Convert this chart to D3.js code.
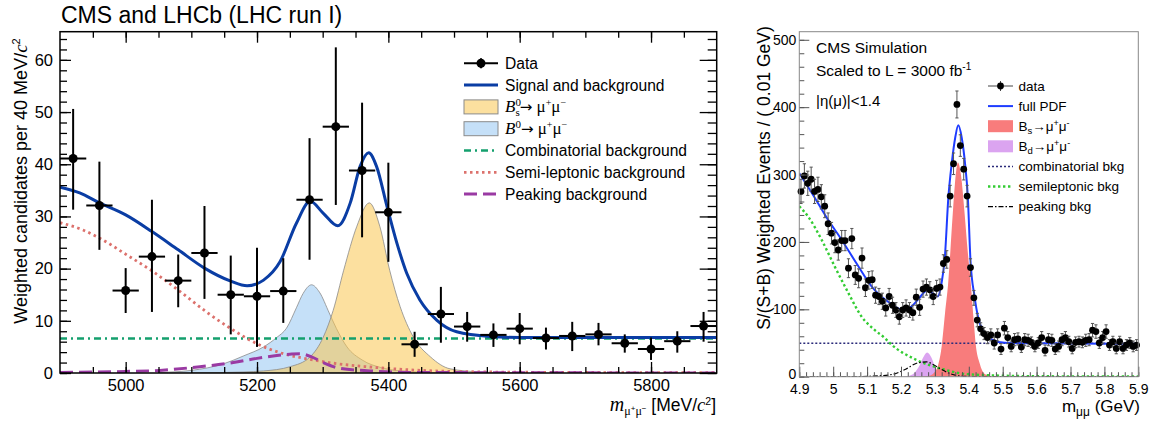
<!DOCTYPE html>
<html>
<head>
<meta charset="utf-8">
<script src="https://cdn.jsdelivr.net/npm/d3@7"></script>
<style>
  html, body { margin: 0; padding: 0; background: #fff; }
  svg { display: block; font-family: "Liberation Sans", Arial, sans-serif; }
</style>
</head>
<body>
<svg id="chart" width="1160" height="424"></svg>
<script>
// ---------- left panel: CMS + LHCb run I ----------
const lhcMass = [4920, 4960, 5000, 5040, 5080, 5120, 5160, 5200, 5240, 5280, 5320, 5360, 5400,
  5440, 5480, 5520, 5560, 5600, 5640, 5680, 5720, 5760, 5800, 5840, 5880];
const lhcCounts = [41.1, 32.1, 15.8, 22.3, 17.7, 23.0, 15.0, 14.7, 15.7, 33.2, 47.2, 38.8, 30.8,
  5.5, 11.3, 8.9, 7.3, 8.5, 6.7, 7.1, 7.4, 5.7, 4.6, 6.1, 9.0];
const lhcErrLow = [31.3, 23.6, 11.5, 11.7, 12.6, 14.2, 7.4, 5.0, 9.6, 21.7, 32.2, 26.0, 21.3,
  3.1, 5.8, 6.0, 5.0, 5.5, 4.5, 4.2, 5.3, 3.9, 2.5, 3.9, 6.0];
const lhcErrHigh = [50.6, 40.5, 20.1, 33.2, 22.7, 32.0, 22.5, 24.0, 22.0, 45.0, 62.4, 51.8, 40.3,
  7.9, 16.5, 11.7, 9.5, 11.5, 8.7, 9.8, 9.6, 7.4, 6.8, 8.0, 11.7];
const lhcBinHalf = 20;

const sigBkgCurve = [[4900, 35.6], [4930, 34.5], [4960, 32.6], [5000, 30.3], [5040, 27.1], [5080, 23.6],
  [5120, 20.1], [5160, 17.6], [5185, 16.7], [5210, 17.8], [5235, 21.3], [5260, 28.7], [5281, 32.9],
  [5301, 30.6], [5323, 28.2], [5342, 32.6], [5357, 39.6], [5370, 42.2], [5382, 39.6], [5398, 31.9],
  [5413, 24.9], [5428, 19.1], [5448, 14.0], [5474, 10.1], [5504, 7.9], [5555, 7.0], [5600, 6.8],
  [5700, 6.8], [5900, 6.8]];
const combCurve = [[4900, 6.6], [5900, 6.6]];
const semilepCurve = [[4900, 28.8], [4935, 27.4], [4961, 25.8], [5002, 22.6], [5042, 19.4], [5083, 15.6],
  [5123, 11.7], [5164, 8.2], [5200, 5.6], [5240, 3.7], [5281, 2.6], [5321, 1.8], [5367, 1.2],
  [5450, 0.5], [5550, 0.2], [5700, 0.1], [5900, 0.05]];
const peakingCurve = [[4900, 0.1], [5000, 0.3], [5052, 0.5], [5113, 1.2], [5164, 2.0], [5200, 2.8],
  [5250, 3.6], [5265, 3.7], [5283, 3.1], [5301, 2.0], [5326, 0.9], [5372, 0.4], [5450, 0.1], [5900, 0]];
const b0Curve = [[5050, 0.1], [5100, 0.5], [5150, 1.8], [5180, 3.3], [5210, 5.0], [5230, 6.8], [5245, 8.6],
  [5260, 12.5], [5270, 15.2], [5283, 16.9], [5295, 15.5], [5310, 11.5], [5321, 8.5], [5337, 5.0],
  [5360, 2.5], [5390, 1.0], [5430, 0.3], [5500, 0]];
const bsCurve = [[5100, 0], [5150, 0.1], [5210, 0.4], [5250, 1.2], [5281, 3.1], [5301, 6.9], [5316, 12.0],
  [5332, 19.7], [5352, 28.1], [5371, 32.6], [5387, 28.1], [5402, 19.7], [5418, 12.7], [5438, 6.9],
  [5464, 3.1], [5494, 0.8], [5540, 0.2], [5600, 0]];

const lhcMajorX = [5000, 5200, 5400, 5600, 5800];
const lhcMajorY = [0, 10, 20, 30, 40, 50, 60];

// ---------- right panel: CMS simulation, 3000 fb-1 ----------
const cmsBinStart = 4.9, cmsBinWidth = 0.01;
const cmsCounts = [
  275, 298, 287, 293, 275, 278, 267, 253, 227, 213,
  199, 188, 202, 202, 161, 205, 151, 146, 176, 132,
  143, 144, 121, 119, 112, 102, 119, 106, 99, 89,
  99, 102, 99, 95, 118, 103, 130, 133, 129, 119,
  131, 133, 168, 174, 268, 316, 404, 343, 308, 268,
  162, 117, 84, 71, 64, 58, 62, 50, 62, 41,
  72, 58, 45, 55, 56, 44, 55, 54, 51, 45,
  50, 58, 39, 55, 54, 41, 45, 55, 58, 52,
  42, 51, 52, 51, 54, 55, 69, 67, 50, 58,
  67, 47, 52, 42, 52, 42, 47, 50, 45, 47];
const cmsErrors = [
  18, 18, 18, 18, 18, 18, 18, 17, 16, 16,
  15, 15, 15, 15, 14, 15, 14, 14, 15, 13,
  13, 13, 12, 12, 12, 12, 12, 12, 11, 11,
  11, 12, 11, 11, 12, 12, 12, 12, 12, 12,
  12, 12, 13, 13, 16, 16, 20, 16, 16, 16,
  13, 11, 10, 9, 9, 9, 9, 9, 9, 8,
  10, 9, 8, 9, 9, 8, 9, 9, 8, 8,
  8, 9, 8, 9, 9, 8, 8, 9, 9, 8,
  8, 8, 8, 8, 9, 9, 10, 10, 8, 9,
  10, 8, 8, 8, 8, 8, 8, 8, 8, 8];

const fullPdfCurve = [[4.9, 302], [4.95, 262], [4.986, 232], [5.02, 207], [5.069, 168], [5.118, 131],
  [5.168, 109], [5.2, 100], [5.227, 103], [5.256, 118], [5.276, 128], [5.296, 123], [5.308, 119],
  [5.32, 140], [5.329, 175], [5.34, 268], [5.35, 318], [5.36, 355], [5.369, 373], [5.379, 355],
  [5.389, 316], [5.397, 268], [5.405, 172], [5.417, 119], [5.428, 87], [5.443, 67], [5.467, 55.5],
  [5.506, 50.5], [5.585, 49.5], [5.9, 49]];
const cmsBsCurve = [[5.25, 0], [5.28, 1], [5.296, 5], [5.31, 18], [5.32, 45], [5.33, 95], [5.339, 138],
  [5.352, 237], [5.359, 286], [5.368, 318], [5.378, 295], [5.388, 240], [5.397, 185], [5.406, 138],
  [5.415, 80], [5.42, 50], [5.432, 20], [5.447, 4], [5.47, 0.5], [5.5, 0]];
const cmsBdCurve = [[5.2, 0], [5.22, 1], [5.24, 6], [5.255, 17], [5.265, 28], [5.277, 36], [5.29, 28],
  [5.3, 15], [5.31, 6], [5.325, 1], [5.34, 0]];
const cmsCombCurve = [[4.9, 49.5], [5.9, 49.5]];
const cmsSemiCurve = [[4.9, 253], [4.927, 237], [4.966, 203], [5.005, 163], [5.045, 124], [5.084, 89],
  [5.123, 69], [5.153, 57], [5.168, 49.5], [5.246, 24.8], [5.315, 12.4], [5.39, 4], [5.5, 1.5],
  [5.6, 0.7], [5.9, 0.2]];
const cmsPeakCurve = [[4.9, 0], [5.05, 0], [5.12, 1], [5.17, 3], [5.217, 12], [5.246, 20], [5.275, 22],
  [5.295, 18], [5.315, 12], [5.345, 4.5], [5.375, 1], [5.42, 0], [5.9, 0]];

const cmsMajorX = [4.9, 5.0, 5.1, 5.2, 5.3, 5.4, 5.5, 5.6, 5.7, 5.8, 5.9];
const cmsMajorY = [0, 100, 200, 300, 400, 500];

// ---------- helpers ----------
const svg = d3.select("#chart");
const defs = svg.append("defs");

function styleAxis(g, fontSize, color, width) {
  g.attr("font-size", null).attr("font-family", null);
  g.select(".domain").remove();
  g.selectAll(".tick line").attr("stroke", color).attr("stroke-width", width);
  g.selectAll(".tick text").attr("fill", "#000").style("font-size", fontSize + "px");
}

// text built out of pieces (sub/superscripts, italics)
function richText(parent, x, y, parts, size, family) {
  const t = parent.append("text").attr("x", x).attr("y", y)
    .style("font-size", size + "px");
  if (family) t.style("font-family", family);
  parts.forEach(p => {
    const s = t.append("tspan").text(p.t);
    if (p.dy) s.attr("dy", p.dy);
    if (p.dx) s.attr("dx", p.dx);
    if (p.size) s.style("font-size", p.size + "px");
    if (p.italic) s.style("font-style", "italic");
    if (p.serif) s.style("font-family", "'Liberation Serif', 'DejaVu Serif', serif");
    if (p.sans) s.style("font-family", "'DejaVu Sans', sans-serif");
  });
  return t;
}

// ================= LEFT PANEL =================
const L = { left: 60, right: 716.7, top: 31.7, bottom: 373 };
const xL = d3.scaleLinear().domain([4900, 5900]).range([L.left, L.right]);
const yL = d3.scaleLinear().domain([0, 65.4]).range([L.bottom, L.top]);

defs.append("clipPath").attr("id", "clipL").append("rect")
  .attr("x", L.left).attr("y", L.top)
  .attr("width", L.right - L.left).attr("height", L.bottom - L.top);

const gL = svg.append("g");
const plotL = gL.append("g").attr("clip-path", "url(#clipL)");

const lineL = d3.line().x(d => xL(d[0])).y(d => yL(d[1])).curve(d3.curveMonotoneX);
const areaL = d3.area().x(d => xL(d[0])).y0(yL(0)).y1(d => yL(d[1])).curve(d3.curveMonotoneX);

// signal shapes
plotL.append("path").attr("d", areaL(b0Curve))
  .attr("fill", "#9fcbf3").attr("fill-opacity", 0.6)
  .attr("stroke", "#8a8a8a").attr("stroke-width", 0.8);
plotL.append("path").attr("d", areaL(bsCurve))
  .attr("fill", "#f9c650").attr("fill-opacity", 0.55)
  .attr("stroke", "#8a8a8a").attr("stroke-width", 0.8);

// backgrounds
plotL.append("path").attr("d", lineL(combCurve))
  .attr("fill", "none").attr("stroke", "#14a06e").attr("stroke-width", 2.6)
  .attr("stroke-dasharray", "7,4,2,4");
plotL.append("path").attr("d", lineL(semilepCurve))
  .attr("fill", "none").attr("stroke", "#dc716c").attr("stroke-width", 2.8)
  .attr("stroke-dasharray", "2.5,3.5");
plotL.append("path").attr("d", lineL(peakingCurve))
  .attr("fill", "none").attr("stroke", "#9a3aa3").attr("stroke-width", 3)
  .attr("stroke-dasharray", "13,6");

// total fit
plotL.append("path").attr("d", lineL(sigBkgCurve))
  .attr("fill", "none").attr("stroke", "#0a3da4").attr("stroke-width", 3);

// data points
const ptsL = gL.append("g").selectAll("g").data(lhcMass).join("g");
ptsL.append("line")
  .attr("x1", d => xL(d)).attr("x2", d => xL(d))
  .attr("y1", (d, i) => yL(lhcErrLow[i])).attr("y2", (d, i) => yL(lhcErrHigh[i]))
  .attr("stroke", "#000").attr("stroke-width", 2);
ptsL.append("line")
  .attr("x1", d => xL(d - lhcBinHalf)).attr("x2", d => xL(d + lhcBinHalf))
  .attr("y1", (d, i) => yL(lhcCounts[i])).attr("y2", (d, i) => yL(lhcCounts[i]))
  .attr("stroke", "#000").attr("stroke-width", 2);
ptsL.append("circle")
  .attr("cx", d => xL(d)).attr("cy", (d, i) => yL(lhcCounts[i]))
  .attr("r", 4.5).attr("fill", "#000");

// axes (ticks inside the frame)
const lhcMinorX = d3.range(4950, 5900, 50);
const lhcMinorY = d3.range(0, 66, 2);
const axL = [
  [d3.axisBottom(xL).tickValues(lhcMinorX).tickSize(-6).tickFormat(""), `translate(0,${L.bottom})`],
  [d3.axisBottom(xL).tickValues(lhcMajorX).tickSize(-11).tickPadding(6).tickFormat(d3.format("d")), `translate(0,${L.bottom})`],
  [d3.axisTop(xL).tickValues(lhcMinorX).tickSize(-6).tickFormat(""), `translate(0,${L.top})`],
  [d3.axisTop(xL).tickValues(lhcMajorX).tickSize(-11).tickFormat(""), `translate(0,${L.top})`],
  [d3.axisLeft(yL).tickValues(lhcMinorY).tickSize(-7).tickFormat(""), `translate(${L.left},0)`],
  [d3.axisLeft(yL).tickValues(lhcMajorY).tickSize(-11).tickPadding(7), `translate(${L.left},0)`],
  [d3.axisRight(yL).tickValues(lhcMinorY).tickSize(-9).tickFormat(""), `translate(${L.right},0)`],
  [d3.axisRight(yL).tickValues(lhcMajorY).tickSize(-17).tickFormat(""), `translate(${L.right},0)`]
];
axL.forEach(([ax, tr]) => {
  gL.append("g").attr("transform", tr).call(ax).call(g => styleAxis(g, 16.5, "#000", 1.3));
});

gL.append("rect")
  .attr("x", L.left).attr("y", L.top)
  .attr("width", L.right - L.left).attr("height", L.bottom - L.top)
  .attr("fill", "none").attr("stroke", "#000").attr("stroke-width", 1.5);

// title and axis titles
gL.append("text").attr("x", 61).attr("y", 22.5)
  .style("font-size", "23px").text("CMS and LHCb (LHC run I)");

richText(gL.append("g").attr("transform", "translate(27,181) rotate(-90)"), 0, 0, [
  { t: "Weighted candidates per 40 MeV/" },
  { t: "c", italic: true, serif: true, size: 19 },
  { t: "2", size: 11, dy: -7 }
], 18).attr("text-anchor", "middle");

richText(gL, 716, 411, [
  { t: "m", italic: true, serif: true, size: 20 },
  { t: "μ", serif: true, size: 12, dy: 4 },
  { t: "+", size: 8, dy: -4 },
  { t: "μ", serif: true, size: 12, dy: 4 },
  { t: "−", size: 8, dy: -4 },
  { t: " [MeV/", dy: 0 },
  { t: "c", italic: true, serif: true, size: 18.5 },
  { t: "2", size: 10.5, dy: -6 },
  { t: "]", dy: 6 }
], 17.5).attr("text-anchor", "end");

// legend
const legL = gL.append("g");
const legLy = i => 63.3 + 21.8 * i;
const lx0 = 464, lx1 = 498, ltx = 505;
legL.append("line").attr("x1", lx0).attr("x2", lx1).attr("y1", legLy(0)).attr("y2", legLy(0))
  .attr("stroke", "#000").attr("stroke-width", 2);
legL.append("line").attr("x1", 481).attr("x2", 481).attr("y1", legLy(0) - 5).attr("y2", legLy(0) + 5)
  .attr("stroke", "#000").attr("stroke-width", 2);
legL.append("circle").attr("cx", 481).attr("cy", legLy(0)).attr("r", 4.5).attr("fill", "#000");
legL.append("line").attr("x1", lx0).attr("x2", lx1).attr("y1", legLy(1)).attr("y2", legLy(1))
  .attr("stroke", "#0a3da4").attr("stroke-width", 3);
legL.append("rect").attr("x", lx0).attr("y", legLy(2) - 7).attr("width", lx1 - lx0).attr("height", 14)
  .attr("fill", "#f9c650").attr("fill-opacity", 0.55).attr("stroke", "#8a8a8a");
legL.append("rect").attr("x", lx0).attr("y", legLy(3) - 7).attr("width", lx1 - lx0).attr("height", 14)
  .attr("fill", "#9fcbf3").attr("fill-opacity", 0.6).attr("stroke", "#8a8a8a");
legL.append("line").attr("x1", lx0).attr("x2", lx1).attr("y1", legLy(4)).attr("y2", legLy(4))
  .attr("stroke", "#14a06e").attr("stroke-width", 2.6).attr("stroke-dasharray", "7,4,2,4");
legL.append("line").attr("x1", lx0).attr("x2", lx1).attr("y1", legLy(5)).attr("y2", legLy(5))
  .attr("stroke", "#dc716c").attr("stroke-width", 2.8).attr("stroke-dasharray", "2.5,3.5");
legL.append("line").attr("x1", lx0).attr("x2", lx1).attr("y1", legLy(6)).attr("y2", legLy(6))
  .attr("stroke", "#9a3aa3").attr("stroke-width", 3).attr("stroke-dasharray", "13,6");

const legLText = { 0: "Data", 1: "Signal and background", 4: "Combinatorial background",
  5: "Semi-leptonic background", 6: "Peaking background" };
Object.entries(legLText).forEach(([i, s]) => {
  legL.append("text").attr("x", ltx).attr("y", legLy(+i) + 5.6).style("font-size", "15.6px").text(s);
});
richText(legL, ltx, legLy(2) + 5.5, [
  { t: "B", italic: true },
  { t: "0", size: 11, dy: -6 },
  { t: "s", size: 11, dx: -5.5, dy: 10 },
  { t: "→", sans: true, size: 15, dy: -4 },
  { t: " μ" },
  { t: "+", size: 10, dy: -6 },
  { t: "μ", dy: 6 },
  { t: "−", size: 10, dy: -6 }
], 17, "'Liberation Serif', 'DejaVu Serif', serif");
richText(legL, ltx, legLy(3) + 5.5, [
  { t: "B", italic: true },
  { t: "0", size: 11, dy: -6 },
  { t: "→", sans: true, size: 15, dy: 6 },
  { t: " μ" },
  { t: "+", size: 10, dy: -6 },
  { t: "μ", dy: 6 },
  { t: "−", size: 10, dy: -6 }
], 17, "'Liberation Serif', 'DejaVu Serif', serif");

// ================= RIGHT PANEL =================
const R = { left: 799.3, right: 1138.3, top: 31.7, bottom: 376.7 };
const xR = d3.scaleLinear().domain([4.9, 5.9]).range([R.left, R.right]);
const yR = d3.scaleLinear().domain([0, 512]).range([R.bottom, R.top]);

defs.append("clipPath").attr("id", "clipR").append("rect")
  .attr("x", R.left).attr("y", R.top)
  .attr("width", R.right - R.left).attr("height", R.bottom - R.top);

const gR = svg.append("g");
const plotR = gR.append("g").attr("clip-path", "url(#clipR)");

const lineR = d3.line().x(d => xR(d[0])).y(d => yR(d[1])).curve(d3.curveMonotoneX);
const areaR = d3.area().x(d => xR(d[0])).y0(yR(0)).y1(d => yR(d[1])).curve(d3.curveMonotoneX);

plotR.append("path").attr("d", areaR(cmsBdCurve)).attr("fill", "#dba4f0");
plotR.append("path").attr("d", areaR(cmsBsCurve)).attr("fill", "#f87c7c");
plotR.append("path").attr("d", lineR(cmsCombCurve))
  .attr("fill", "none").attr("stroke", "#2b2b7a").attr("stroke-width", 1.5)
  .attr("stroke-dasharray", "2,2");
plotR.append("path").attr("d", lineR(cmsSemiCurve))
  .attr("fill", "none").attr("stroke", "#33cc33").attr("stroke-width", 2.4)
  .attr("stroke-dasharray", "2.4,2.6");
plotR.append("path").attr("d", lineR(cmsPeakCurve))
  .attr("fill", "none").attr("stroke", "#000").attr("stroke-width", 1.2)
  .attr("stroke-dasharray", "5,2,1.5,2");
plotR.append("path").attr("d", lineR(fullPdfCurve))
  .attr("fill", "none").attr("stroke", "#1e3cff").attr("stroke-width", 2);

// data with error bars
const cmsCenters = cmsCounts.map((v, i) => cmsBinStart + cmsBinWidth * (i + 0.5));
const ptsR = gR.append("g").selectAll("g").data(cmsCounts).join("g");
ptsR.append("line")
  .attr("x1", (d, i) => xR(cmsCenters[i])).attr("x2", (d, i) => xR(cmsCenters[i]))
  .attr("y1", (d, i) => yR(d - cmsErrors[i])).attr("y2", (d, i) => yR(d + cmsErrors[i]))
  .attr("stroke", "#555").attr("stroke-width", 1);
[-1, 1].forEach(s => {
  ptsR.append("line")
    .attr("x1", (d, i) => xR(cmsCenters[i]) - 1.6).attr("x2", (d, i) => xR(cmsCenters[i]) + 1.6)
    .attr("y1", (d, i) => yR(d + s * cmsErrors[i])).attr("y2", (d, i) => yR(d + s * cmsErrors[i]))
    .attr("stroke", "#555").attr("stroke-width", 1);
});
ptsR.append("circle")
  .attr("cx", (d, i) => xR(cmsCenters[i])).attr("cy", d => yR(d))
  .attr("r", 3.4).attr("fill", "#000");

// axes
const cmsMinorX = d3.range(4.9, 5.9001, 0.02);
const cmsMinorY = d3.range(0, 512, 20);
const axR = [
  [d3.axisBottom(xR).tickValues(cmsMinorX).tickSize(-4.5).tickFormat(""), `translate(0,${R.bottom})`],
  [d3.axisBottom(xR).tickValues(cmsMajorX).tickSize(-10).tickPadding(7).tickFormat(d => String(+d.toFixed(1))), `translate(0,${R.bottom})`],
  [d3.axisLeft(yR).tickValues(cmsMinorY).tickSize(-5).tickFormat(""), `translate(${R.left},0)`],
  [d3.axisLeft(yR).tickValues(cmsMajorY).tickSize(-10).tickPadding(3), `translate(${R.left},0)`]
];
axR.forEach(([ax, tr]) => {
  gR.append("g").attr("transform", tr).call(ax).call(g => styleAxis(g, 14, "#555", 1));
});
// lift the "0" label a touch so it clears the 4.9 below it
gR.selectAll(".tick text").filter(d => d === 0).attr("dy", "0.1em");

gR.append("rect")
  .attr("x", R.left).attr("y", R.top)
  .attr("width", R.right - R.left).attr("height", R.bottom - R.top)
  .attr("fill", "none").attr("stroke", "#888").attr("stroke-width", 1);

// texts
gR.append("text").attr("x", 816).attr("y", 53.3).style("font-size", "15.5px").text("CMS Simulation");
richText(gR, 816, 75.5, [
  { t: "Scaled to L = 3000 fb" },
  { t: "-1", size: 10, dy: -6 }
], 15.5);
gR.append("text").attr("x", 816).attr("y", 106).style("font-size", "15px").text("|η(μ)|<1.4");

gR.append("text").attr("transform", "translate(770,178) rotate(-90)")
  .attr("text-anchor", "middle").style("font-size", "17.5px")
  .text("S/(S+B) Weighted Events / ( 0.01 GeV)");

richText(gR, 1140, 412, [
  { t: "m" },
  { t: "μμ", size: 12, dy: 4 },
  { t: " (GeV)", dy: -4 }
], 17).attr("text-anchor", "end");

// legend
const legR = gR.append("g");
const legRy = i => 86 + 20.1 * i;
const rx0 = 988, rx1 = 1013, rtx = 1018.5;
legR.append("line").attr("x1", rx0).attr("x2", rx1).attr("y1", legRy(0)).attr("y2", legRy(0))
  .attr("stroke", "#444").attr("stroke-width", 1);
legR.append("line").attr("x1", 1000.5).attr("x2", 1000.5).attr("y1", legRy(0) - 5).attr("y2", legRy(0) + 5)
  .attr("stroke", "#444").attr("stroke-width", 1);
legR.append("circle").attr("cx", 1000.5).attr("cy", legRy(0)).attr("r", 3.4).attr("fill", "#000");
legR.append("line").attr("x1", rx0).attr("x2", rx1).attr("y1", legRy(1)).attr("y2", legRy(1))
  .attr("stroke", "#1e3cff").attr("stroke-width", 2);
legR.append("rect").attr("x", rx0).attr("y", legRy(2) - 6).attr("width", rx1 - rx0).attr("height", 12)
  .attr("fill", "#f87c7c");
legR.append("rect").attr("x", rx0).attr("y", legRy(3) - 6).attr("width", rx1 - rx0).attr("height", 12)
  .attr("fill", "#dba4f0");
legR.append("line").attr("x1", rx0).attr("x2", rx1).attr("y1", legRy(4)).attr("y2", legRy(4))
  .attr("stroke", "#2b2b7a").attr("stroke-width", 1.5).attr("stroke-dasharray", "2,2");
legR.append("line").attr("x1", rx0).attr("x2", rx1).attr("y1", legRy(5)).attr("y2", legRy(5))
  .attr("stroke", "#33cc33").attr("stroke-width", 2.4).attr("stroke-dasharray", "2.4,2.6");
legR.append("line").attr("x1", rx0).attr("x2", rx1).attr("y1", legRy(6)).attr("y2", legRy(6))
  .attr("stroke", "#000").attr("stroke-width", 1.2).attr("stroke-dasharray", "5,2,1.5,2");

const legRText = { 0: "data", 1: "full PDF", 4: "combinatorial bkg", 5: "semileptonic bkg", 6: "peaking bkg" };
Object.entries(legRText).forEach(([i, s]) => {
  legR.append("text").attr("x", rtx).attr("y", legRy(+i) + 4.8).style("font-size", "13.5px").text(s);
});
[["s", 2], ["d", 3]].forEach(([sub, i]) => {
  richText(legR, rtx, legRy(i) + 4.8, [
    { t: "B" },
    { t: sub, size: 9.5, dy: 3 },
    { t: "→μ", dy: -3 },
    { t: "+", size: 9, dy: -5 },
    { t: "μ", dy: 5 },
    { t: "-", size: 9, dy: -5 }
  ], 13.5);
});
</script>
</body>
</html>
